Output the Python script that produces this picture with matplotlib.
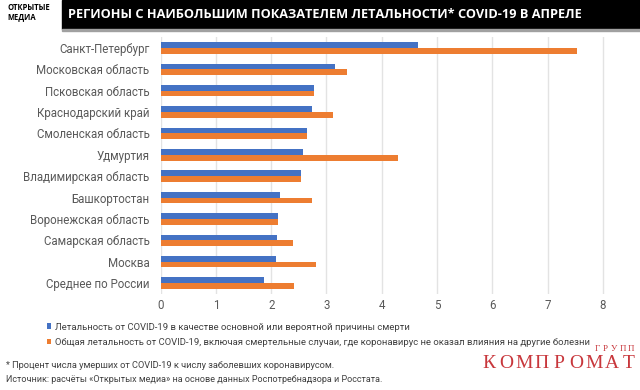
import matplotlib
matplotlib.use('Agg')
import matplotlib.pyplot as plt
import numpy as np

# Data
regions = ['Санкт-Петербург', 'Московская область', 'Псковская область',
           'Краснодарский край', 'Смоленская область', 'Удмуртия',
           'Владимирская область', 'Башкортостан', 'Воронежская область',
           'Самарская область', 'Москва', 'Среднее по России']
main_cause = [4.66, 3.16, 2.77, 2.73, 2.64, 2.57, 2.53, 2.15, 2.12, 2.11, 2.09, 1.87]
total = [7.54, 3.38, 2.77, 3.11, 2.64, 4.29, 2.53, 2.74, 2.12, 2.39, 2.81, 2.42]
xticks = [0, 1, 2, 3, 4, 5, 6, 7, 8]

label_main = 'Летальность от COVID-19 в качестве основной или вероятной причины смерти'
label_total = ('Общая летальность от COVID-19, включая смертельные случаи, '
               'где коронавирус не оказал влияния на другие болезни')

plt.rcParams['font.family'] = ['Roboto', 'DejaVu Sans']

W, H = 640, 390
fig = plt.figure(figsize=(6.4, 3.9), dpi=100)

# Header: black title bar and logo
fig.patches.append(plt.Rectangle((62 / W, 1 - 29 / H), 1, 29 / H,
                                 transform=fig.transFigure, color='black', zorder=0))
fig.patches.append(plt.Rectangle((62 / W, 1 - 31 / H), 1, 2 / H,
                                 transform=fig.transFigure, color='#a0a0a0', zorder=0))
fig.text(7 / W, 1 - 12.5 / H, 'ОТКРЫТЫЕ\nМЕДИА', fontsize=5.5, fontweight='bold',
         va='center', ha='left', linespacing=1.0, family=['Open Sans', 'DejaVu Sans'])
fig.text(68 / W, 1 - 15 / H,
         'РЕГИОНЫ С НАИБОЛЬШИМ ПОКАЗАТЕЛЕМ ЛЕТАЛЬНОСТИ* COVID-19 В АПРЕЛЕ',
         color='white', fontsize=9.2, fontweight='bold', va='center', ha='left',
         family=['Open Sans', 'DejaVu Sans'])

ax = fig.add_axes([160.7 / W, 1 - 293.7 / H, (603.3 - 160.7) / W * 1.03, 256.4 / H])

y = np.arange(len(regions))
h = 0.27
ax.barh(y - h / 2, main_cause, height=h, color='#4472C4', label=label_main, zorder=3)
ax.barh(y + h / 2, total, height=h, color='#ED7D31', label=label_total, zorder=3)

ax.set_yticks(y)
ax.set_yticklabels(regions, fontsize=8.3, color='#595959')
ax.set_ylim(len(regions) - 0.5, -0.5)
ax.set_xlim(0, 8.25)
ax.set_xticks(xticks)
ax.set_xticklabels([str(t) for t in xticks], fontsize=8.3, color='#595959')
ax.tick_params(axis='y', length=0, pad=8)
ax.tick_params(axis='x', length=0, pad=4)
ax.grid(axis='x', color='#e3e3e3', linewidth=1, zorder=0)
for s in ax.spines.values():
    s.set_visible(False)

# Legend below the chart
fig.legend(loc='upper left', bbox_to_anchor=(38 / W, 1 - 314 / H), frameon=False,
           fontsize=6.8, handlelength=0.5, handleheight=0.5, handletextpad=0.4,
           labelspacing=0.65, labelcolor='#404040')

# Footnotes
fig.text(6 / W, 1 - 366 / H,
         '* Процент числа умерших от COVID-19 к числу заболевших коронавирусом.',
         fontsize=6.7, color='#404040', va='center')
fig.text(6 / W, 1 - 380 / H,
         'Источник: расчёты «Открытых медиа» на основе данных Роспотребнадзора и Росстата.',
         fontsize=6.5, color='#404040', va='center')

# Watermark, letter-spaced
for i, ch in enumerate('КОМПРОМАТ'):
    fig.text((489 + i * 17.5) / W, 1 - 363.5 / H, ch, fontsize=14, color='#c8373c',
             ha='center', va='center', family=['Liberation Serif', 'DejaVu Serif'])
for i, ch in enumerate('ГРУПП'):
    fig.text((597 + i * 8.5) / W, 1 - 349 / H, ch, fontsize=6.5, color='#c8373c',
             ha='center', va='center', family=['Liberation Serif', 'DejaVu Serif'])

fig.savefig('out.png', dpi=100)
